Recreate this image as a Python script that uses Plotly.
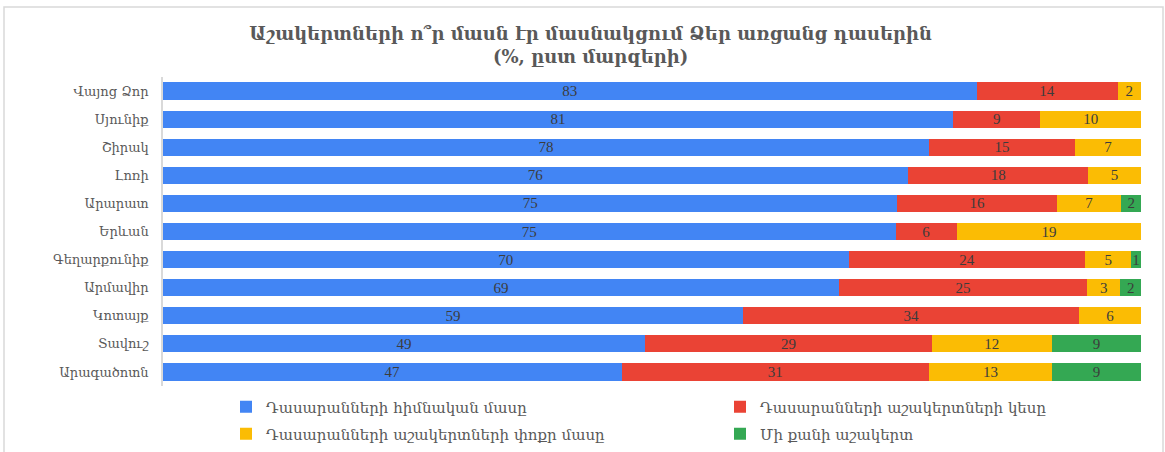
import plotly.graph_objects as go

regions = ["Վայոց Ձոր", "Սյունիք", "Շիրակ", "Լոռի", "Արարատ", "Երևան",
           "Գեղարքունիք", "Արմավիր", "Կոտայք", "Տավուշ", "Արագածոտն"]
most_of_class = [83.2, 80.8, 78.3, 76.2, 75.1, 74.9, 70.1, 69.1, 59.3, 49.3, 46.9]
half_of_class = [14.4, 8.9, 15.0, 18.4, 16.3, 6.3, 24.2, 25.4, 34.4, 29.3, 31.4]
small_part = [2.4, 10.3, 6.7, 5.4, 6.6, 18.8, 4.7, 3.4, 6.3, 12.3, 12.6]
few_students = [None, None, None, None, 2.0, None, 1.0, 2.1, None, 9.1, 9.1]

series_names = ["Դասարանների հիմնական մասը",
                "Դասարանների աշակերտների կեսը",
                "Դասարանների աշակերտների փոքր մասը",
                "Մի քանի աշակերտ"]
series_values = [most_of_class, half_of_class, small_part, few_students]
colors = ["#4285F4", "#EA4335", "#FBBC04", "#34A853"]
legend_ids = ["legend", "legend2", "legend3", "legend4"]

ARM = "DejaVu Serif, serif"
NUM = "Liberation Serif, DejaVu Serif, serif"

fig = go.Figure()
for name, vals, col, lg in zip(series_names, series_values, colors, legend_ids):
    fig.add_trace(go.Bar(
        y=regions, x=vals, name=name, orientation="h",
        marker=dict(color=col, line=dict(width=0)),
        texttemplate="%{x:.0f}", textposition="inside",
        insidetextanchor="middle", textangle=0,
        textfont=dict(family=NUM, size=15, color="#3c3c3c"),
        legend=lg, showlegend=True,
    ))

W, H = 1165, 452
ml, mr, mt, mb = 163, 24, 77, 66
pw, ph = W - ml - mr, H - mt - mb

def px_x(p):
    return (p - ml) / pw

def px_y(p):
    return (H - mb - p) / ph

# legend entry positions (left x, centre y) in pixels
legend_pos = [(226, 407), (720, 407), (226, 434), (720, 434)]
legend_layouts = {}
for lg, (lx, ly) in zip(legend_ids, legend_pos):
    legend_layouts[lg] = dict(
        orientation="h", x=px_x(lx), xanchor="left",
        y=px_y(ly), yanchor="middle",
        font=dict(family=ARM, size=15, color="#595959"),
        bgcolor="rgba(0,0,0,0)")

fig.update_layout(
    width=W, height=H,
    barmode="stack",
    bargap=0.39,
    showlegend=True,
    margin=dict(l=ml, r=mr, t=mt, b=mb, autoexpand=False),
    paper_bgcolor="white", plot_bgcolor="white",
    uniformtext=dict(minsize=15, mode="show"),
    title=dict(
        text="<b>Աշակերտների ո՞ր մասն էր մասնակցում Ձեր առցանց դասերին<br>(%, ըստ մարզերի)</b>",
        x=0.507, xanchor="center", y=1 - 40 / H, yanchor="top",
        font=dict(family=ARM, size=18, color="#595959"),
    ),
    xaxis=dict(range=[0, 100], showticklabels=False, showgrid=False,
               zeroline=False, fixedrange=True),
    yaxis=dict(autorange="reversed", showline=True, linecolor="#d9d9d9",
               linewidth=1.5, ticks="", ticklabelstandoff=10,
               tickfont=dict(family=ARM, size=13, color="#595959")),
    shapes=[dict(type="rect", xref="paper", yref="paper",
                 x0=px_x(4), x1=px_x(1163), y0=px_y(470), y1=px_y(7),
                 line=dict(color="#d9d9d9", width=1.5), layer="below")],
    **legend_layouts,
)

fig.write_html("out.html", config={"displayModeBar": False},
               post_script="document.body.style.margin='0';")
